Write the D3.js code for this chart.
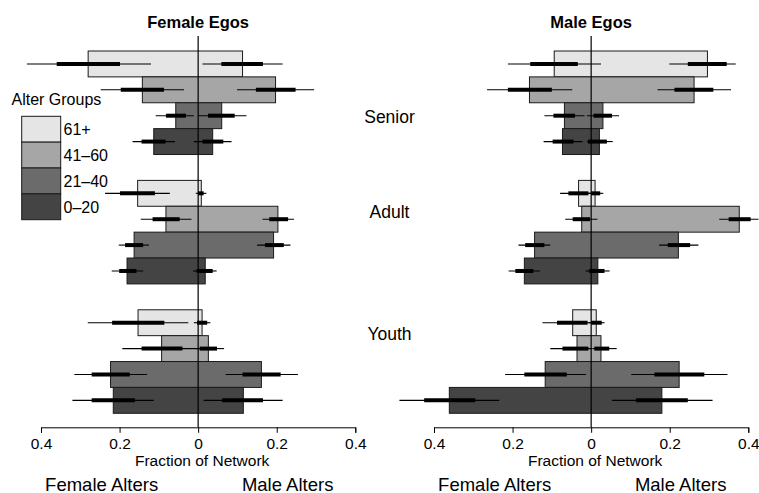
<!DOCTYPE html>
<html>
<head>
<meta charset="utf-8">
<script src="https://cdn.jsdelivr.net/npm/d3@7"></script>
<style>
  body { margin: 0; background: #fff; }
  svg text { font-family: "Liberation Sans", Arial, Helvetica, sans-serif; fill: #000; }
</style>
</head>
<body>
<script>
// ---- data ----
var egoGroups = ["Senior", "Adult", "Youth"];
var alterGroups = ["61+", "41\u201360", "21\u201340", "0\u201320"];
var alterColors = ["#e5e5e5", "#a6a6a6", "#6b6b6b", "#444444"];
var xTicks = [-0.4, -0.2, 0, 0.2, 0.4];

// order: Senior(61+,41-60,21-40,0-20), Adult(...), Youth(...)
var femEgoFemAlt = [0.280, 0.142, 0.057, 0.113, 0.154, 0.082, 0.163, 0.181, 0.153, 0.093, 0.223, 0.216];
var femEgoMaleAlt = [0.113, 0.197, 0.060, 0.037, 0.008, 0.203, 0.192, 0.018, 0.010, 0.026, 0.161, 0.115];
var maleEgoFemAlt = [0.094, 0.157, 0.068, 0.073, 0.032, 0.024, 0.144, 0.170, 0.047, 0.036, 0.117, 0.361];
var maleEgoMaleAlt = [0.296, 0.262, 0.030, 0.021, 0.010, 0.377, 0.222, 0.017, 0.013, 0.025, 0.224, 0.180];

// intervals: [outer lo, inner lo, inner hi, outer hi]
var femEgoFemAltCI = [
  [0.120, 0.199, 0.360, 0.436], [0.036, 0.087, 0.197, 0.248], [0.011, 0.031, 0.082, 0.108], [0.059, 0.083, 0.144, 0.167],
  [0.072, 0.110, 0.199, 0.237], [0.017, 0.047, 0.116, 0.146], [0.125, 0.140, 0.186, 0.202], [0.140, 0.157, 0.201, 0.220],
  [0.025, 0.086, 0.219, 0.281], [-0.004, 0.040, 0.144, 0.193], [0.130, 0.174, 0.271, 0.315], [0.113, 0.161, 0.271, 0.320]
];
var femEgoMaleAltCI = [
  [0.011, 0.059, 0.165, 0.215], [0.099, 0.147, 0.248, 0.295], [0.000, 0.025, 0.093, 0.123], [-0.011, 0.011, 0.064, 0.085],
  [-0.006, 0.000, 0.014, 0.021], [0.164, 0.181, 0.229, 0.244], [0.150, 0.170, 0.218, 0.235], [-0.013, -0.004, 0.037, 0.047],
  [-0.011, -0.003, 0.023, 0.031], [-0.004, 0.004, 0.048, 0.066], [0.070, 0.113, 0.210, 0.254], [0.014, 0.061, 0.165, 0.215]
];
var maleEgoFemAltCI = [
  [-0.025, 0.034, 0.155, 0.212], [0.048, 0.100, 0.212, 0.265], [0.017, 0.041, 0.096, 0.119], [0.022, 0.045, 0.098, 0.121],
  [-0.008, 0.007, 0.058, 0.079], [-0.016, 0.003, 0.047, 0.066], [0.104, 0.119, 0.168, 0.185], [0.130, 0.147, 0.193, 0.210],
  [0.000, 0.009, 0.087, 0.124], [-0.002, 0.007, 0.073, 0.104], [0.013, 0.062, 0.170, 0.219], [0.234, 0.295, 0.425, 0.488]
];
var maleEgoMaleAltCI = [
  [0.199, 0.246, 0.345, 0.368], [0.169, 0.212, 0.311, 0.356], [-0.011, 0.006, 0.053, 0.071], [-0.011, -0.008, 0.040, 0.055],
  [-0.008, 0.000, 0.023, 0.031], [0.326, 0.350, 0.406, 0.426], [0.173, 0.195, 0.252, 0.273], [-0.014, -0.005, 0.034, 0.047],
  [-0.007, 0.000, 0.027, 0.034], [0.003, 0.008, 0.046, 0.065], [0.102, 0.161, 0.288, 0.347], [0.053, 0.114, 0.246, 0.309]
];

var panels = [
  { title: "Female Egos", range: [41, 355.3], fem: femEgoFemAlt, male: femEgoMaleAlt, femCI: femEgoFemAltCI, maleCI: femEgoMaleAltCI },
  { title: "Male Egos", range: [434, 748.3], fem: maleEgoFemAlt, male: maleEgoMaleAlt, femCI: maleEgoFemAltCI, maleCI: maleEgoMaleAltCI }
];

// ---- layout ----
var width = 759,
    height = 493;

var svg = d3.select("body").append("svg")
    .attr("width", width)
    .attr("height", height)
    .style("display", "block");

// 3 groups of 4 bars with one empty slot between groups
var y = d3.scaleLinear().domain([0, 14]).range([51, 413.3]);
var barH = y(1) - y(0);
function slot(i) { return Math.floor(i / 4) * 5 + (i % 4); }

var axisY = 427.3;

panels.forEach(function(p) {
    var x = d3.scaleLinear().domain([-0.4, 0.4]).range(p.range);
    var g = svg.append("g");
    var x0 = x(0);

    var rows = p.fem.map(function(f, i) {
        return { f: f, m: p.male[i], fci: p.femCI[i], mci: p.maleCI[i], a: i % 4, s: slot(i) };
    });

    // bars: female alters to the left, male alters to the right
    g.selectAll("rect.bar")
        .data(rows)
        .enter().append("rect")
        .attr("class", "bar")
        .attr("x", function(d) { return x(-d.f); })
        .attr("y", function(d) { return y(d.s); })
        .attr("width", function(d) { return x(d.m) - x(-d.f); })
        .attr("height", barH)
        .style("fill", function(d) { return alterColors[d.a]; })
        .style("stroke", "#1a1a1a")
        .style("stroke-width", 1);

    // interval segments
    var segs = [];
    rows.forEach(function(d) {
        var cy = y(d.s) + barH / 2;
        segs.push({ x1: x(-d.fci[0]), x2: x(-d.fci[3]), y: cy, w: 1.1 });
        segs.push({ x1: x(d.mci[0]), x2: x(d.mci[3]), y: cy, w: 1.1 });
        segs.push({ x1: x(-d.fci[1]), x2: x(-d.fci[2]), y: cy, w: 4 });
        segs.push({ x1: x(d.mci[1]), x2: x(d.mci[2]), y: cy, w: 4 });
    });
    g.selectAll("line.ci")
        .data(segs)
        .enter().append("line")
        .attr("class", "ci")
        .attr("x1", function(d) { return d.x1; })
        .attr("x2", function(d) { return d.x2; })
        .attr("y1", function(d) { return d.y; })
        .attr("y2", function(d) { return d.y; })
        .style("stroke", "#000")
        .style("stroke-width", function(d) { return d.w; });

    // zero line
    g.append("line")
        .attr("x1", x0).attr("x2", x0)
        .attr("y1", 36).attr("y2", axisY)
        .style("stroke", "#000")
        .style("stroke-width", 1.2);

    // axis
    var axis = d3.axisBottom(x)
        .tickValues(xTicks)
        .tickSize(5.5)
        .tickPadding(5)
        .tickFormat(function(d) { return d === 0 ? "0" : d3.format(".1f")(Math.abs(d)); });
    var ax = g.append("g")
        .attr("transform", "translate(0," + axisY + ")")
        .call(axis);
    ax.selectAll("text")
        .style("font-size", "15.5px")
        .attr("fill", "#000");
    ax.selectAll("path, line").style("stroke", "#000").style("stroke-width", 1);

    g.append("text")
        .attr("x", x0).attr("y", 27.5)
        .attr("text-anchor", "middle")
        .style("font-size", "16.5px")
        .style("font-weight", "bold")
        .text(p.title);

    g.append("text")
        .attr("x", x0 + 4).attr("y", 466)
        .attr("text-anchor", "middle")
        .style("font-size", "15.5px")
        .text("Fraction of Network");

    g.append("text")
        .attr("x", x0 - 96.5).attr("y", 490.5)
        .attr("text-anchor", "middle")
        .style("font-size", "18.5px")
        .text("Female Alters");

    g.append("text")
        .attr("x", x0 + 89.5).attr("y", 490.5)
        .attr("text-anchor", "middle")
        .style("font-size", "18.5px")
        .text("Male Alters");
});

// ego group labels between the panels
var labelSlot = [2.8, 6.47, 11.17];
svg.selectAll("text.ego")
    .data(egoGroups)
    .enter().append("text")
    .attr("class", "ego")
    .attr("x", 389.5)
    .attr("y", function(d, i) { return y(labelSlot[i]); })
    .attr("text-anchor", "middle")
    .style("font-size", "17.5px")
    .text(function(d) { return d; });

// legend
var lg = svg.append("g");
lg.append("text")
    .attr("x", 11.5).attr("y", 105.3)
    .style("font-size", "16px")
    .text("Alter Groups");

var ly = d3.scaleLinear().domain([0, 4]).range([116.3, 219.7]);
lg.selectAll("rect")
    .data(alterGroups)
    .enter().append("rect")
    .attr("x", 21.7)
    .attr("y", function(d, i) { return ly(i); })
    .attr("width", 39)
    .attr("height", ly(1) - ly(0))
    .style("fill", function(d, i) { return alterColors[i]; })
    .style("stroke", "#1a1a1a")
    .style("stroke-width", 1);

lg.selectAll("text.lab")
    .data(alterGroups)
    .enter().append("text")
    .attr("class", "lab")
    .attr("x", 63.5)
    .attr("y", function(d, i) { return ly(i + 0.5) + 5.8; })
    .style("font-size", "16px")
    .text(function(d) { return d; });
</script>
</body>
</html>
